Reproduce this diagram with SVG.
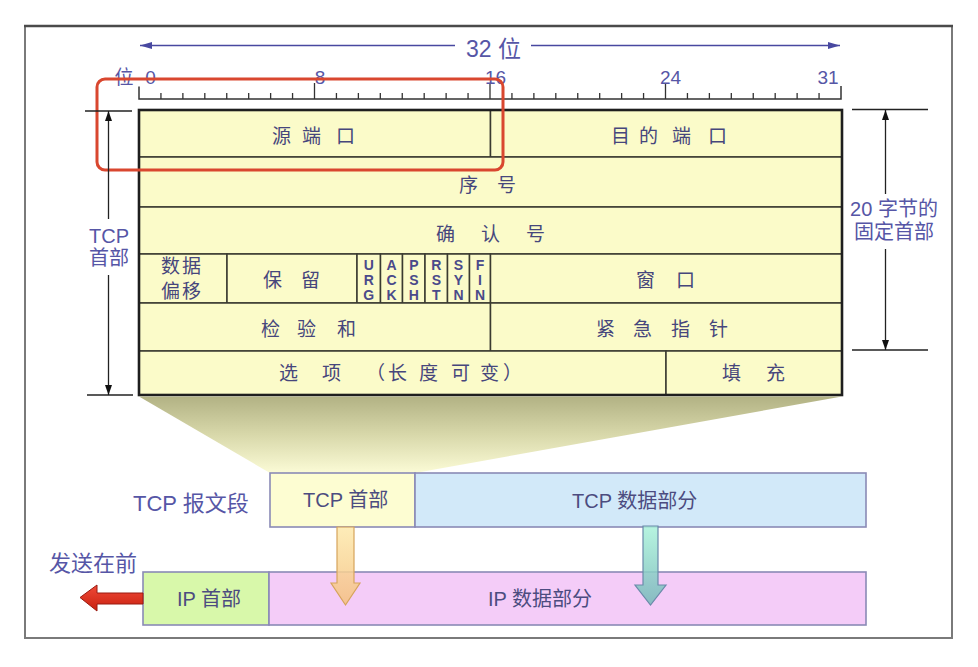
<svg xmlns="http://www.w3.org/2000/svg" width="978" height="667" viewBox="0 0 978 667">
<defs>
<style>
.t{font-family:"Liberation Sans","Noto Sans CJK SC",sans-serif;fill:#46467c;font-size:19px}
.lbl{font-family:"Liberation Sans","Noto Sans CJK SC",sans-serif;fill:#5656a6}
.fl{font-family:"Liberation Sans",sans-serif;font-weight:bold;font-size:14px;fill:#4a4a8a;text-anchor:middle}
.cell{fill:#fbfbc9;stroke:#3a3a30;stroke-width:1.5}
.bx{stroke:#8a8ab6;stroke-width:1.6}
.bt{font-family:"Liberation Sans","Noto Sans CJK SC",sans-serif;fill:#4c4c80;font-size:20px}
.dim{stroke:#222;stroke-width:1.3;fill:none}
</style>
<marker id="ah" viewBox="0 0 10 7" refX="10" refY="3.5" markerWidth="10" markerHeight="7" markerUnits="userSpaceOnUse" orient="auto-start-reverse"><path d="M0,0 L10,3.5 L0,7 z" fill="#111"/></marker>
<marker id="bh" viewBox="0 0 12 7" refX="12" refY="3.5" markerWidth="12" markerHeight="7" markerUnits="userSpaceOnUse" orient="auto-start-reverse"><path d="M0,0 L12,3.5 L0,7 z" fill="#4848a0"/></marker>
<linearGradient id="trap" x1="0" y1="0" x2="0" y2="1"><stop offset="0" stop-color="#b2b284"/><stop offset="0.5" stop-color="#d8d8aa"/><stop offset="1" stop-color="#fbfbd6"/></linearGradient>
<linearGradient id="og" x1="0" y1="0" x2="0" y2="1"><stop offset="0" stop-color="#fde9ac"/><stop offset="1" stop-color="#f5c07e"/></linearGradient>
<linearGradient id="tg" x1="0" y1="0" x2="0" y2="1"><stop offset="0" stop-color="#aaf2da"/><stop offset="1" stop-color="#74b8b8"/></linearGradient>
<linearGradient id="rg" x1="0" y1="0" x2="0" y2="1"><stop offset="0" stop-color="#f04a38"/><stop offset="1" stop-color="#c8200f"/></linearGradient>
</defs>
<rect x="0" y="0" width="978" height="667" fill="#fff"/>
<g id="frame">
<rect x="25" y="26" width="927" height="612" fill="#fff" stroke="#7a7a7a" stroke-width="2"/>
<line x1="24" y1="26" x2="953" y2="26" stroke="#4a4a4a" stroke-width="2.5"/>
</g>

<g id="width-label">
<line x1="140" y1="45.5" x2="455" y2="45.5" stroke="#4848a0" stroke-width="1.3" marker-start="url(#bh)"/>
<line x1="531" y1="45.5" x2="840" y2="45.5" stroke="#4848a0" stroke-width="1.3" marker-end="url(#bh)"/>
<text class="lbl" x="493.5" y="57" font-size="23" text-anchor="middle">32 位</text>
</g>

<g id="ruler">
<path d="M139 86.5 V99 H841 V86" stroke="#333" stroke-width="1.5" fill="none"/>
<path stroke="#333" stroke-width="1.3" d="M160.94 93V99M182.88 93V99M204.81 93V99M226.75 93V99M248.69 93V99M270.63 93V99M292.56 93V99M314.5 83V99M336.44 93V99M358.38 93V99M380.31 93V99M402.25 93V99M424.19 93V99M446.13 93V99M468.06 93V99M490 83V99M511.94 93V99M533.88 93V99M555.81 93V99M577.75 93V99M599.69 93V99M621.63 93V99M643.56 93V99M665.5 83V99M687.44 93V99M709.38 93V99M731.31 93V99M753.25 93V99M775.19 93V99M797.13 93V99M819.06 93V99"/>
<g class="lbl" font-size="19" text-anchor="middle">
<text x="124" y="84">位</text>
<text x="150.5" y="84">0</text>
<text x="320" y="84">8</text>
<text x="495.5" y="84">16</text>
<text x="670.5" y="84">24</text>
<text x="828" y="84">31</text>
</g>
</g>

<g id="tcp-header-table">
<g id="src-port"><rect class="cell" x="139" y="110" width="351.5" height="47"/><text class="t" x="272 302 336" y="143">源端口</text></g>
<g id="dst-port"><rect class="cell" x="490.5" y="110" width="351.5" height="47"/><text class="t" x="611 639 672 708" y="143">目的端口</text></g>
<g id="seq"><rect class="cell" x="139" y="157" width="703" height="50"/><text class="t" x="459 497" y="192">序号</text></g>
<g id="ack"><rect class="cell" x="139" y="207" width="703" height="47"/><text class="t" x="436 481 526" y="241">确认号</text></g>
<g id="data-offset"><rect class="cell" x="139" y="254" width="88" height="49"/><text class="t" font-size="20" x="161 182" y="273">数据</text><text class="t" font-size="20" x="161 182" y="298">偏移</text></g>
<g id="reserved"><rect class="cell" x="227" y="254" width="130" height="49"/><text class="t" x="263 301" y="287">保留</text></g>
<g id="flags">
<rect class="cell" x="357" y="254" width="23.5" height="49"/>
<rect class="cell" x="380.5" y="254" width="22" height="49"/>
<rect class="cell" x="402.5" y="254" width="22.5" height="49"/>
<rect class="cell" x="425" y="254" width="22.5" height="49"/>
<rect class="cell" x="447.5" y="254" width="22" height="49"/>
<rect class="cell" x="469.5" y="254" width="21" height="49"/>
<text class="fl" y="270"><tspan x="368.8">U</tspan><tspan x="391.5">A</tspan><tspan x="413.8">P</tspan><tspan x="436.3">R</tspan><tspan x="458.5">S</tspan><tspan x="480">F</tspan></text>
<text class="fl" y="284.5"><tspan x="368.8">R</tspan><tspan x="391.5">C</tspan><tspan x="413.8">S</tspan><tspan x="436.3">S</tspan><tspan x="458.5">Y</tspan><tspan x="480">I</tspan></text>
<text class="fl" y="299.5"><tspan x="368.8">G</tspan><tspan x="391.5">K</tspan><tspan x="413.8">H</tspan><tspan x="436.3">T</tspan><tspan x="458.5">N</tspan><tspan x="480">N</tspan></text>
</g>
<g id="window"><rect class="cell" x="490.5" y="254" width="351.5" height="49"/><text class="t" x="636 676" y="287">窗口</text></g>
<g id="checksum"><rect class="cell" x="139" y="303" width="351.5" height="48"/><text class="t" x="261 297 337" y="336">检验和</text></g>
<g id="urgent-pointer"><rect class="cell" x="490.5" y="303" width="351.5" height="48"/><text class="t" x="596 633 671 709" y="336">紧急指针</text></g>
<g id="options"><rect class="cell" x="139" y="351" width="527" height="44"/><text class="t" x="279 322 366 388 419 451 480 503" y="380">选项（长度可变）</text></g>
<g id="padding"><rect class="cell" x="666" y="351" width="176" height="44"/><text class="t" x="722 766" y="380">填充</text></g>
<rect x="139" y="110" width="703" height="285" fill="none" stroke="#1e1e1e" stroke-width="2.6"/>
</g>

<g id="highlight">
<rect x="97" y="79" width="406" height="91" rx="8" ry="8" fill="none" stroke="#d9472f" stroke-width="3"/>
</g>

<g id="dim-tcp-header">
<line class="dim" x1="85" y1="111" x2="132" y2="111"/>
<line class="dim" x1="87" y1="395" x2="133" y2="395"/>
<line class="dim" x1="108.5" y1="111" x2="108.5" y2="219" marker-start="url(#ah)"/>
<line class="dim" x1="108.5" y1="275" x2="108.5" y2="395" marker-end="url(#ah)"/>
<text class="lbl" x="109" y="243" font-size="20" text-anchor="middle">TCP</text>
<text class="lbl" x="109" y="265" font-size="20" text-anchor="middle">首部</text>
</g>

<g id="dim-fixed">
<line class="dim" x1="852" y1="109.5" x2="928" y2="109.5"/>
<line class="dim" x1="852" y1="350" x2="928" y2="350"/>
<line class="dim" x1="885.5" y1="110" x2="885.5" y2="194" marker-start="url(#ah)"/>
<line class="dim" x1="885.5" y1="249" x2="885.5" y2="350" marker-end="url(#ah)"/>
<text class="lbl" x="894" y="216" font-size="20" text-anchor="middle">20 字节的</text>
<text class="lbl" x="894" y="239" font-size="20" text-anchor="middle">固定首部</text>
</g>

<g id="connectors">
<polygon id="zoom-wedge" points="139,396.5 842,396.5 415,473 270,473" fill="url(#trap)"/>
</g>

<g id="tcp-segment">
<text class="lbl" x="133" y="511" font-size="22">TCP 报文段</text>
<g id="tcp-hdr-box"><rect class="bx" x="270" y="473" width="145" height="54" fill="#fdfdd2"/><text class="bt" x="303" y="507">TCP 首部</text></g>
<g id="tcp-data-box"><rect class="bx" x="415" y="473" width="451" height="54" fill="#d2e9f9"/><text class="bt" x="572" y="508">TCP 数据部分</text></g>
</g>

<g id="ip-datagram">
<text class="lbl" x="49" y="571" font-size="22">发送在前</text>
<g id="ip-hdr-box"><rect class="bx" x="143" y="572" width="126" height="53" fill="#d8f8aa"/><text class="bt" font-size="21" x="177" y="606">IP 首部</text></g>
<g id="ip-data-box"><rect class="bx" x="269" y="572" width="597" height="53" fill="#f4ccf8"/><text class="bt" font-size="21" x="488" y="606">IP 数据部分</text></g>
</g>

<g id="arrows">
<polygon id="arrow-hdr" points="337,527 354,527 354,583 360,583 345.5,605 331,583 337,583" fill="url(#og)" fill-opacity="0.85" stroke="#d6a45c" stroke-width="1.2"/>
<polygon id="arrow-data" points="643,526 658,526 658,585 666,585 650.5,605 635,585 643,585" fill="url(#tg)" fill-opacity="0.85" stroke="#6a8aaa" stroke-width="1.2"/>
<polygon id="arrow-send" points="80,597.5 97,585 97,593 143,593 143,604 97,604 97,611" fill="url(#rg)" stroke="#9a1a10" stroke-width="1"/>
</g>
</svg>
